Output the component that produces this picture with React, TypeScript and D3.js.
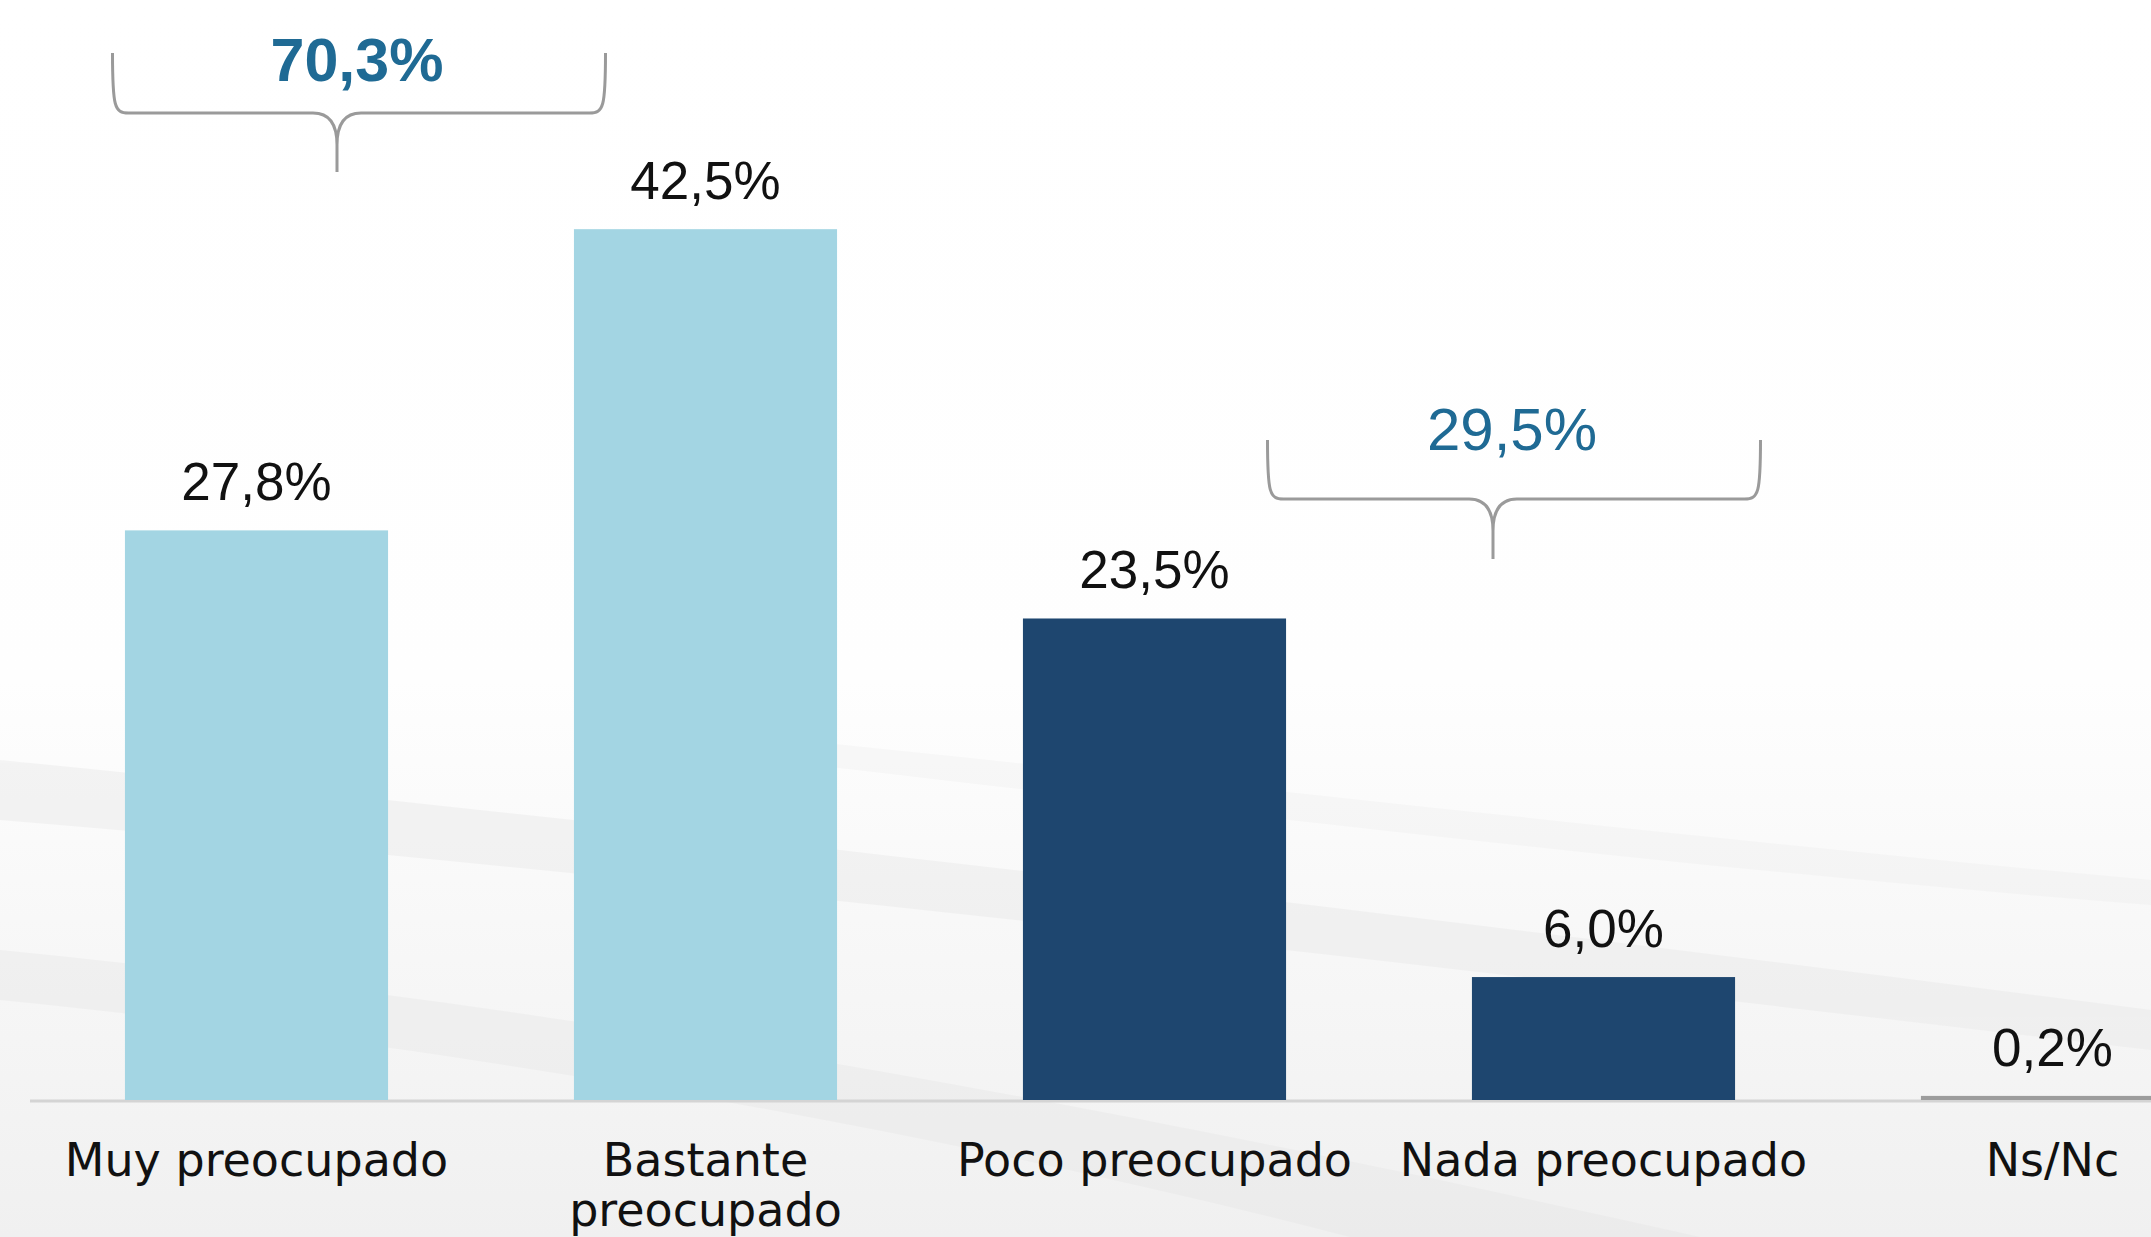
import * as d3 from 'd3'
import { useEffect } from 'react'

const categories = ['Muy preocupado', 'Bastante preocupado', 'Poco preocupado', 'Nada preocupado', 'Ns/Nc']
const categoryLines = [['Muy preocupado'], ['Bastante', 'preocupado'], ['Poco preocupado'], ['Nada preocupado'], ['Ns/Nc']]
const values = [27.8, 42.5, 23.5, 6.0, 0.2]
const valueLabels = ['27,8%', '42,5%', '23,5%', '6,0%', '0,2%']
const groupLabels = ['70,3%', '29,5%']
const groupMembers = [
  ['Muy preocupado', 'Bastante preocupado'],
  ['Poco preocupado', 'Nada preocupado'],
]

const W = 2151
const H = 1237
const baseY = 1100

export default function App() {
  useEffect(() => {
    document.body.style.margin = '0'
    document.body.style.overflow = 'hidden'
  }, [])

  const x = d3.scaleBand<string>().domain(categories).range([32, 2277]).paddingInner(0.414).paddingOuter(0.207)
  const y = d3.scaleLinear().domain([0, 50]).range([baseY, baseY - 50 * 20.49])
  const bw = x.bandwidth()
  const cx = (c: string) => (x(c) as number) + bw / 2

  const barColor = (i: number) => (i < 2 ? '#A3D5E3' : i < 4 ? '#1E466F' : '#9C9C9C')

  // curly brace: arms up at the ends, point down at tip
  const brace = (x1: number, x2: number, tip: number, top: number, h: number, bottom: number) => {
    const r = 16
    const c = 24
    return (
      `M${x1},${top} C${x1},${h - 6} ${x1 + 2},${h} ${x1 + r},${h} L${tip - c},${h} Q${tip},${h} ${tip},${h + c + 8} L${tip},${bottom}` +
      ` M${tip},${h + c + 8} Q${tip},${h} ${tip + c},${h} L${x2 - r},${h} C${x2 - 2},${h} ${x2},${h - 6} ${x2},${top}`
    )
  }

  // annotation brackets, placed as in the slide
  const braces = [
    { x1: cx(groupMembers[0][0]) - 144, x2: cx(groupMembers[0][1]) - 100, tip: 337, top: 53, h: 113, bottom: 172, lx: 357, ly: 81, bold: true },
    { x1: cx(groupMembers[1][0]) + 113, x2: cx(groupMembers[1][1]) + 157, tip: 1493, top: 440, h: 499, bottom: 559, lx: 1512, ly: 450, bold: false },
  ]

  return (
    <svg width={W} height={H} style={{ display: 'block' }}>
      <defs>
        <linearGradient id="bg" x1="0" y1="0" x2="0" y2="1">
          <stop offset="0" stopColor="#ffffff" />
          <stop offset="0.55" stopColor="#fefefe" />
          <stop offset="1" stopColor="#f0f0f0" />
        </linearGradient>
      </defs>
      <rect width={W} height={H} fill="url(#bg)" />
      <g fill="#e4e4e4" opacity={0.35}>
        <path d={`M0,760 C600,820 1300,900 2151,1010 L2151,1050 C1300,950 600,870 0,820 Z`} />
        <path d={`M0,950 C500,1000 1000,1080 1700,1237 L1350,1237 C900,1120 400,1040 0,1000 Z`} />
        <path d={`M600,720 C1200,780 1700,840 2151,880 L2151,905 C1700,870 1200,810 600,740 Z`} opacity={0.6} />
      </g>
      <line x1={30} x2={W} y1={baseY + 1} y2={baseY + 1} stroke="#d4d4d4" strokeWidth={3} />
      {categories.map((c, i) => (
        <rect key={c} x={x(c)} y={y(values[i])} width={bw} height={baseY - y(values[i])} fill={barColor(i)} />
      ))}
      {categories.map((c, i) => (
        <text
          key={'v' + c}
          x={cx(c)}
          y={y(values[i]) - 30}
          textAnchor="middle"
          fontFamily="'Liberation Sans', Arial, sans-serif"
          fontSize={53}
          fill="#111"
        >
          {valueLabels[i]}
        </text>
      ))}
      {categories.map((c, i) => (
        <text key={'c' + c} x={cx(c)} y={1176} textAnchor="middle" fontFamily="'DejaVu Sans', sans-serif" fontSize={46} fill="#111">
          {categoryLines[i].map((l, j) => (
            <tspan key={j} x={cx(c)} dy={j === 0 ? 0 : 50}>
              {l}
            </tspan>
          ))}
        </text>
      ))}
      {braces.map((b, i) => (
        <g key={'b' + i}>
          <path d={brace(b.x1, b.x2, b.tip, b.top, b.h, b.bottom)} fill="none" stroke="#9a9a9a" strokeWidth={3} />
          <text
            x={b.lx}
            y={b.ly}
            textAnchor="middle"
            fontFamily="'Liberation Sans', Arial, sans-serif"
            fontSize={b.bold ? 61 : 60}
            fontWeight={b.bold ? 700 : 400}
            fill="#1F6A94"
          >
            {groupLabels[i]}
          </text>
        </g>
      ))}
    </svg>
  )
}
